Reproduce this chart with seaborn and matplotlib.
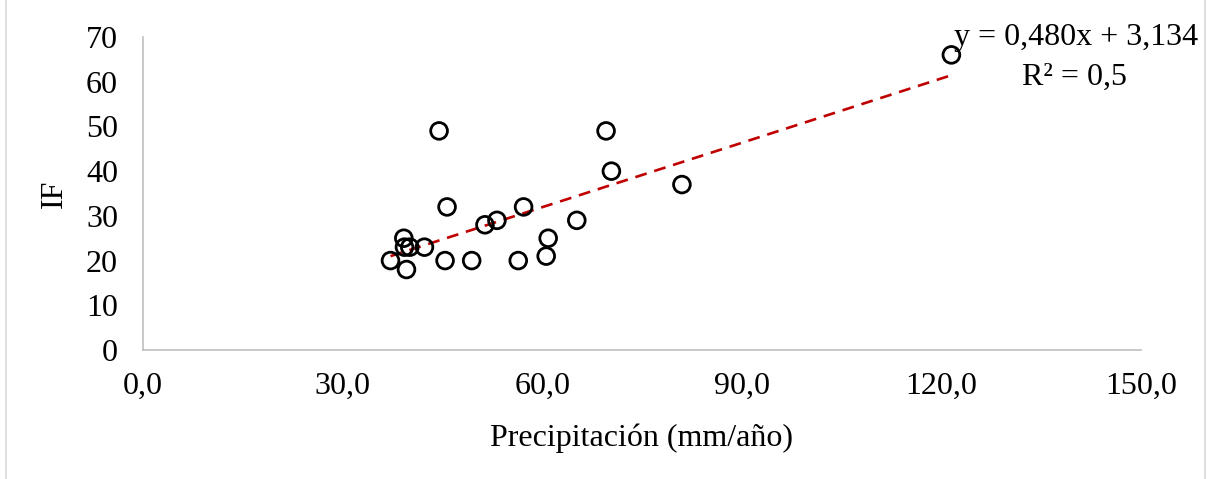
import numpy as np
import pandas as pd
import matplotlib
matplotlib.use("Agg")
import matplotlib.pyplot as plt
from matplotlib.lines import Line2D
import seaborn as sns

# Precipitation (mm/año) vs IF observations
precip = [37.2, 39.6, 39.2, 39.3, 40.1, 42.3, 44.5, 45.7, 45.4, 49.4, 51.4,
          53.2, 57.2, 56.4, 60.6, 60.9, 65.2, 69.6, 70.4, 81.0, 121.5]
if_vals = [20, 18, 25, 23, 23, 23, 49, 32, 20, 20, 28,
           29, 32, 20, 21, 25, 29, 49, 40, 37, 66]

# Linear trend coefficients shown in the annotation
slope = 0.480
intercept = 3.134
r2 = 0.5

x_ticks = [0, 30, 60, 90, 120, 150]
y_ticks = [0, 10, 20, 30, 40, 50, 60, 70]

sns.set_style("white")
plt.rcParams["font.family"] = ["Liberation Serif", "DejaVu Serif"]
plt.rcParams["text.color"] = "black"
plt.rcParams["axes.labelcolor"] = "black"

FS = 23

df = pd.DataFrame({"precip": precip, "IF": if_vals})

W, H = 1210, 479
fig = plt.figure(figsize=(W / 100, H / 100), dpi=100)
ax = fig.add_axes([143 / W, 1 - 350 / H, 998 / W, 313 / H])

# Trend line over the observed range
xs = np.array([min(precip), max(precip)])
ax.plot(xs, slope * xs + intercept, color="#C00000", lw=1.9,
        dashes=(4.5, 3), zorder=2)

sns.scatterplot(data=df, x="precip", y="IF", ax=ax, marker="o", s=145,
                facecolor="none", edgecolor="black", linewidth=2.0, zorder=3)

ax.set_xlim(0, 150)
ax.set_ylim(0, 70)
ax.set_xticks(x_ticks)
ax.set_yticks(y_ticks)
ax.set_xticklabels([f"{v:.1f}".replace(".", ",") for v in x_ticks])
ax.set_yticklabels([str(v) for v in y_ticks])
ax.tick_params(axis="both", length=0, labelsize=FS, colors="black")
ax.tick_params(axis="y", pad=18)
ax.tick_params(axis="x", pad=16)

for side in ("top", "right"):
    ax.spines[side].set_visible(False)
for side in ("left", "bottom"):
    ax.spines[side].set_color("#bfbfbf")
    ax.spines[side].set_linewidth(1.2)

ax.set_xlabel("Precipitación (mm/año)", fontsize=FS, labelpad=16)
ax.set_ylabel("IF", fontsize=FS, labelpad=12)

eq = f"y = {slope:.3f}x + {intercept:.3f}".replace(".", ",")
r2_txt = f"R² = {r2:.1f}".replace(".", ",")
fig.text(1198 / W, 1 - 37 / H, eq, ha="right", va="center", fontsize=FS)
fig.text(1075 / W, 1 - 77 / H, r2_txt, ha="center", va="center", fontsize=FS)

# Chart area frame edges
for xp in (6, 1205):
    fig.add_artist(Line2D([xp / W, xp / W], [0, 1], color="#d9d9d9", lw=1.2))

fig.savefig("out.png", dpi=100)
